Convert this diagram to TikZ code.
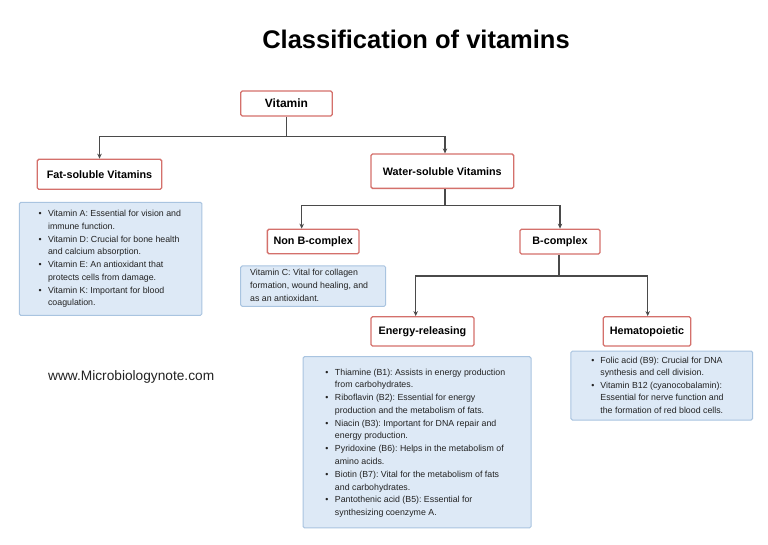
\documentclass[tikz,border=0pt]{standalone}
\usepackage{fontspec}
\setmainfont{Liberation Sans}
\frenchspacing
\usetikzlibrary{arrows.meta}
\definecolor{redb}{HTML}{D4706B}
\definecolor{blueb}{HTML}{A9C4E0}
\definecolor{bluef}{HTML}{DDE9F6}
\definecolor{linec}{HTML}{4A4A4A}
\definecolor{txt}{HTML}{222222}
\tikzset{
  catbox/.style={draw=redb, line width=1.3pt, fill=white, rounded corners=1.5pt, inner sep=0pt,
    font=\fontsize{10.8}{13}\selectfont\bfseries, text=black},
  infobox/.style={draw=blueb, line width=1pt, fill=bluef, rounded corners=1.5pt, inner sep=0pt},
  infotext/.style={inner sep=0pt, anchor=base west, text=txt},
  conn/.style={draw=linec, line width=1.2pt, -{Stealth[length=5pt,width=4.5pt]}},
  connplain/.style={draw=linec, line width=1.2pt},
}
\newcommand{\blist}[3]{\fontsize{8.8}{#2}\selectfont\frenchspacing\begin{tabular}[t]{@{}l@{\hspace{#1}}l@{}}#3\end{tabular}}
\begin{document}
\begin{tikzpicture}[x=1pt,y=-1pt]
\useasboundingbox (0,0) rectangle (768,544);
\fill[white] (0,0) rectangle (768,544);

\node[inner sep=0pt, anchor=base, font=\fontsize{25.5}{30}\selectfont\bfseries] (title) at (416,48) {Classification of vitamins};

% connectors (drawn first, boxes on top)
\coordinate (j1) at (286.7,136.7);
\coordinate (j2) at (445,205.7);
\coordinate (j3) at (559,276);

% category boxes
\node[catbox, minimum width=91.6pt, minimum height=25pt, font=\fontsize{12}{14}\selectfont\bfseries] (vit) at (286.5,103.5) {Vitamin};
\node[catbox, minimum width=124.4pt, minimum height=30pt] (fat) at (99.5,174.3) {Fat-soluble Vitamins};
\node[catbox, minimum width=142.7pt, minimum height=34.3pt] (water) at (442.3,171.2) {Water-soluble Vitamins};
\node[catbox, minimum width=91.7pt, minimum height=24.4pt] (nonb) at (313.2,241.5) {Non B-complex};
\node[catbox, minimum width=80pt, minimum height=24.7pt] (bcx) at (560,241.6) {B-complex};
\node[catbox, minimum width=103pt, minimum height=29.3pt] (energy) at (422.5,331.4) {Energy-releasing};
\node[catbox, minimum width=87.4pt, minimum height=29.3pt] (hemato) at (647,331.4) {Hematopoietic};

\draw[connplain] (vit.south -| j1) -- (j1);
\draw[conn] (j1) -| (fat.north);
\draw[conn] (j1) -| (water.north -| j2);

\draw[connplain] (water.south -| j2) -- (j2);
\draw[conn] (j2) -| ([xshift=-11.5pt]nonb.north);
\draw[conn] (j2) -| (bcx.north);

\draw[connplain] (bcx.south -| j3) -- (j3);
\draw[conn] (j3) -| ([xshift=-6.8pt]energy.north);
\draw[conn] (j3) -| ([xshift=0.7pt]hemato.north);

% info boxes
\node[infobox, minimum width=182.7pt, minimum height=113pt] (fatinfo) at (110.6,258.8) {};
\node[infobox, minimum width=145pt, minimum height=40.3pt] (cinfo) at (313.2,286.1) {};
\node[infobox, minimum width=228pt, minimum height=171.3pt] (eninfo) at (417,442.3) {};
\node[infobox, minimum width=181.7pt, minimum height=69pt] (heminfo) at (661.8,385.5) {};

\node[infotext] (fattext) at (38.5,216.5) {\blist{6.3pt}{12.76pt}{%
\textbullet & Vitamin A: Essential for vision and\\
 & immune function.\\
\textbullet & Vitamin D: Crucial for bone health\\
 & and calcium absorption.\\
\textbullet & Vitamin E: An antioxidant that\\
 & protects cells from damage.\\
\textbullet & Vitamin K: Important for blood\\
 & coagulation.}};

\node[infotext] (ctext) at (250,275.6) {\fontsize{8.8}{12.85pt}\selectfont\begin{tabular}[t]{@{}l@{}}Vitamin C: Vital for collagen\\ formation, wound healing, and\\ as an antioxidant.\end{tabular}};

\node[infotext] (entext) at (325.1,375) {\blist{6.6pt}{12.78pt}{%
\textbullet & Thiamine (B1): Assists in energy production\\
 & from carbohydrates.\\
\textbullet & Riboflavin (B2): Essential for energy\\
 & production and the metabolism of fats.\\
\textbullet & Niacin (B3): Important for DNA repair and\\
 & energy production.\\
\textbullet & Pyridoxine (B6): Helps in the metabolism of\\
 & amino acids.\\
\textbullet & Biotin (B7): Vital for the metabolism of fats\\
 & and carbohydrates.\\
\textbullet & Pantothenic acid (B5): Essential for\\
 & synthesizing coenzyme A.}};

\node[infotext] (hemtext) at (591.1,363) {\blist{6pt}{12.5pt}{%
\textbullet & Folic acid (B9): Crucial for DNA\\
 & synthesis and cell division.\\
\textbullet & Vitamin B12 (cyanocobalamin):\\
 & Essential for nerve function and\\
 & the formation of red blood cells.}};

\node[inner sep=0pt, anchor=base west, font=\fontsize{13.7}{16}\selectfont, text=txt] (web) at (48,380.7) {www.Microbiologynote.com};
\end{tikzpicture}
\end{document}
